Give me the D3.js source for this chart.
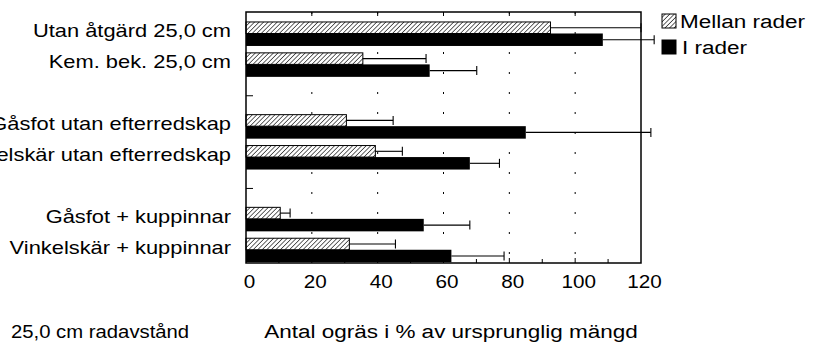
<!DOCTYPE html>
<html><head><meta charset="utf-8">
<script src="https://cdn.jsdelivr.net/npm/d3@7"></script>
<style>
body{margin:0;background:#fff}
svg{display:block}
text{font-family:"Liberation Sans",Arial,Helvetica,sans-serif;fill:#000}
</style>
</head><body>
<svg id="c" width="813" height="344"></svg>
<script>
// ---- data ----
const categories = ["Utan åtgärd 25,0 cm","Kem. bek. 25,0 cm","","Gåsfot utan efterredskap","Vinkelskär utan efterredskap","","Gåsfot + kuppinnar","Vinkelskär + kuppinnar"];
const seriesNames = ["Mellan rader","I rader"];
const mellanRader    = [92.5, 35.5, null, 30.5, 39.3, null, 10.4, 31.4];
const mellanRaderTop = [120, 54.7, null, 44.7, 47.5, null, 13.4, 45.4];
const iRader         = [108.4, 55.8, null, 85, 68, null, 54, 62.4];
const iRaderTop      = [124, 70.1, null, 123, 77, null, 68, 78.4];
const xTicks = [0,20,40,60,80,100,120];
const xMinorTicks = [10,20,30,40,50,60,70,80,90,100,110];
const gridTicks = [20,40,60,80,100];
const xTitle = "Antal ogräs i % av ursprunglig mängd";
const footNote = "25,0 cm radavstånd";

// ---- layout ----
const svg = d3.select("#c");
const L = 246, R = 641, T = 12, B = 263;
const x = d3.scaleLinear().domain([0,120]).range([L,R]);
const y = d3.scaleBand().domain(d3.range(categories.length)).range([18.5,265.7]).paddingInner(0.223).paddingOuter(0.112);
const bw = y.bandwidth();
const hH = bw*0.48;

const defs = svg.append("defs");
const pat = defs.append("pattern").attr("id","hatch").attr("patternUnits","userSpaceOnUse")
  .attr("width",3.2).attr("height",3.2).attr("patternTransform","rotate(45)");
pat.append("rect").attr("width",3.2).attr("height",3.2).attr("fill","#fff");
pat.append("line").attr("x1",0).attr("y1",0).attr("x2",0).attr("y2",3.2).attr("stroke","#000").attr("stroke-width",1.2);

// gridlines (dotted)
svg.append("g").selectAll("line").data(gridTicks).join("line")
  .attr("x1",d=>x(d)).attr("x2",d=>x(d)).attr("y1",T).attr("y2",B)
  .attr("stroke","#000").attr("stroke-width",1).attr("stroke-dasharray","2,18");
// top ticks
svg.append("g").selectAll("line").data(gridTicks).join("line")
  .attr("x1",d=>x(d)).attr("x2",d=>x(d)).attr("y1",T).attr("y2",T+4)
  .attr("stroke","#000").attr("stroke-width",1);
// bottom ticks
svg.append("g").selectAll("line").data(xMinorTicks).join("line")
  .attr("x1",d=>x(d)).attr("x2",d=>x(d)).attr("y1",B).attr("y2",d=>B-(d%20===0?5:4))
  .attr("stroke","#000").attr("stroke-width",1);
// left ticks at slot centres
svg.append("g").selectAll("line").data(d3.range(categories.length)).join("line")
  .attr("x1",L).attr("x2",L+7).attr("y1",i=>y(i)+bw/2).attr("y2",i=>y(i)+bw/2)
  .attr("stroke","#000").attr("stroke-width",1);

const idx = d3.range(categories.length).filter(i=>mellanRader[i]!=null);

// bars
svg.append("g").selectAll("rect").data(idx).join("rect")
  .attr("x",x(0)).attr("y",i=>y(i)).attr("width",i=>x(mellanRader[i])-x(0)).attr("height",hH)
  .attr("fill","url(#hatch)").attr("stroke","#000").attr("stroke-width",1);
svg.append("g").selectAll("rect").data(idx).join("rect")
  .attr("x",x(0)).attr("y",i=>y(i)+hH).attr("width",i=>x(iRader[i])-x(0)).attr("height",bw-hH)
  .attr("fill","#000");

// error bars
function errBars(vals, tops, yc){
  const g = svg.append("g").attr("stroke","#000").attr("stroke-width",1.1);
  g.selectAll("line.h").data(idx).join("line").attr("class","h")
    .attr("x1",i=>x(vals[i])).attr("x2",i=>x(tops[i])).attr("y1",yc).attr("y2",yc);
  g.selectAll("line.c").data(idx).join("line").attr("class","c")
    .attr("x1",i=>x(tops[i])).attr("x2",i=>x(tops[i])).attr("y1",i=>yc(i)-4.5).attr("y2",i=>yc(i)+4.5);
}
errBars(mellanRader, mellanRaderTop, i=>y(i)+hH/2);
errBars(iRader, iRaderTop, i=>y(i)+hH+(bw-hH)/2);

// frame
svg.append("rect").attr("x",L).attr("y",T).attr("width",R-L).attr("height",B-T)
  .attr("fill","none").attr("stroke","#000").attr("stroke-width",1.5);

// x axis labels
const sxTick = 1.15;
const xAxis = d3.axisBottom(x).tickValues(xTicks).tickSize(0).tickFormat(d3.format("d"));
const gx = svg.append("g").attr("transform",`translate(0,${B})`).call(xAxis);
gx.select(".domain").remove();
gx.selectAll("text").attr("y",25).attr("dy",0).attr("x",3/sxTick).attr("transform",`scale(${sxTick},1)`)
  .style("font-size","18px").style("font-family",'"Liberation Sans",Arial,sans-serif').attr("fill","#000");

// y axis labels
const sxLab = 1.25, pad = 15;
const yAxis = d3.axisLeft(y).tickSize(0).tickFormat(i=>categories[i]);
const gy = svg.append("g").attr("transform",`translate(${L},0)`).call(yAxis);
gy.select(".domain").remove();
gy.selectAll("text").attr("x",-pad/sxLab).attr("dy",0).attr("y",3.5)
  .attr("transform",`scale(${sxLab},1)`)
  .style("font-size","17.5px").style("font-family",'"Liberation Sans",Arial,sans-serif').attr("fill","#000");

// titles
svg.append("text").attr("transform",`translate(451,338) scale(1.25,1)`).attr("text-anchor","middle")
  .style("font-size","18px").text(xTitle);
svg.append("text").attr("transform",`translate(11,338) scale(1.16,1)`).attr("text-anchor","start")
  .style("font-size","17.5px").text(footNote);

// legend
const lg = svg.append("g");
const legFill = ["url(#hatch)","#000"];
seriesNames.forEach((n,k)=>{
  const yy = 14 + k*26;
  lg.append("rect").attr("x",662).attr("y",yy).attr("width",14).attr("height",14)
    .attr("fill",legFill[k]).attr("stroke","#000").attr("stroke-width",1);
  lg.append("text").attr("transform",`translate(${k===0?680:682},${yy+14}) scale(1.25,1)`)
    .style("font-size","18px").text(n);
});
</script>
</body></html>
